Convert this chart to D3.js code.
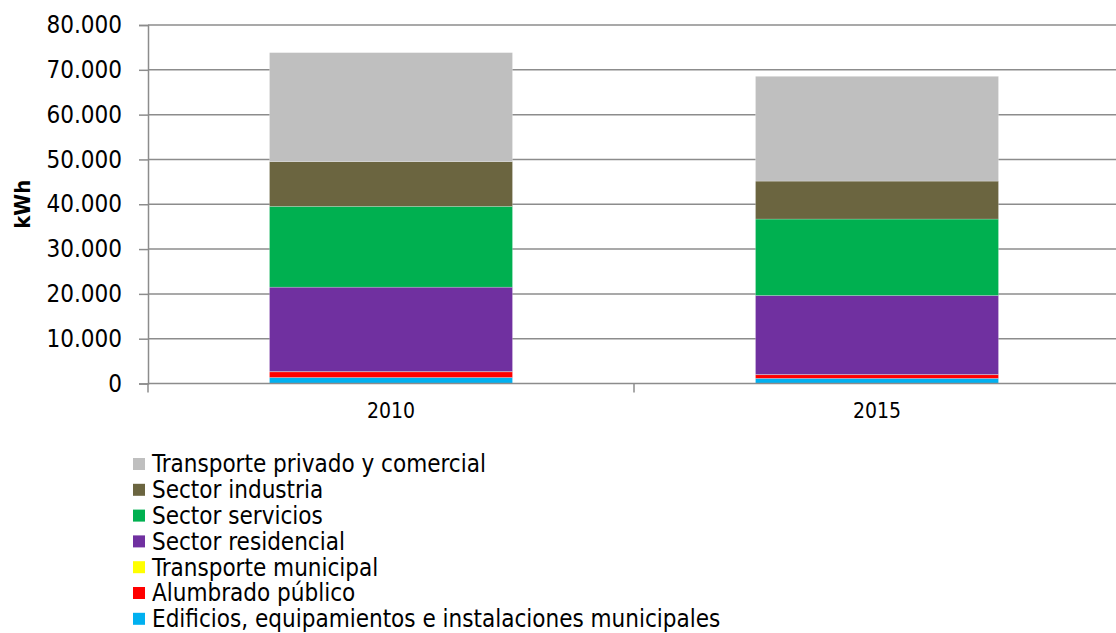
<!DOCTYPE html>
<html>
<head>
<meta charset="utf-8">
<script src="https://cdn.jsdelivr.net/npm/d3@7"></script>
<style>
  body { margin: 0; background: #fff; }
  svg { display: block; font-family: "DejaVu Sans Condensed", "DejaVu Sans", sans-serif; }
</style>
</head>
<body>
<div id="chart"></div>
<script>
// Consumo de energía por sector (kWh), años 2010 y 2015
const YEARS = ['2010', '2015'];
const SERIES = [
  'Edificios, equipamientos e instalaciones municipales',
  'Alumbrado público',
  'Transporte municipal',
  'Sector residencial',
  'Sector servicios',
  'Sector industria',
  'Transporte privado y comercial'
];
const EDIFICIOS = [1350, 1150];
const ALUMBRADO = [1250, 800];
const TRANSPORTE_MUN = [60, 50];
const RESIDENCIAL = [18840, 17640];
const SERVICIOS = [18030, 17060];
const INDUSTRIA = [9970, 8470];
const TRANSPORTE_PRIV = [24330, 23380];
const Y_TICKS = [0, 10000, 20000, 30000, 40000, 50000, 60000, 70000, 80000];

const COLORS = ['#00B0F0', '#FF0000', '#FFFF00', '#7030A0', '#00B050', '#6B6540', '#BFBFBF'];
const W = 1116, H = 633;
const PLOT = { left: 148, right: 1120, top: 25, bottom: 383.5 };

const values = [EDIFICIOS, ALUMBRADO, TRANSPORTE_MUN, RESIDENCIAL, SERVICIOS, INDUSTRIA, TRANSPORTE_PRIV];
const rows = YEARS.map((y, i) => {
  const r = { year: y };
  SERIES.forEach((s, k) => { r[s] = values[k][i]; });
  return r;
});
const stacked = d3.stack().keys(SERIES)(rows);

const svg = d3.select('#chart').append('svg').attr('width', W).attr('height', H);

const x = d3.scaleBand().domain(YEARS).range([PLOT.left, PLOT.right])
  .paddingInner(0.5).paddingOuter(0.25);
const y = d3.scaleLinear().domain([0, 80000]).range([PLOT.bottom, PLOT.top]);
const fmt = (d) => d3.format(',')(d).replace(/,/g, '.');

// gridlines
svg.append('g')
  .selectAll('line')
  .data(Y_TICKS.filter((d) => d > 0))
  .join('line')
  .attr('x1', PLOT.left).attr('x2', W)
  .attr('y1', (d) => y(d)).attr('y2', (d) => y(d))
  .attr('stroke', '#8c8c8c').attr('stroke-width', 1.5);

// bars
svg.append('g')
  .selectAll('g')
  .data(stacked)
  .join('g')
  .attr('fill', (d, i) => COLORS[i])
  .selectAll('rect')
  .data((d) => d)
  .join('rect')
  .attr('x', (d) => x(d.data.year))
  .attr('width', x.bandwidth())
  .attr('y', (d) => y(d[1]))
  .attr('height', (d) => y(d[0]) - y(d[1]))
  .attr('stroke', 'rgba(255,255,255,0.35)')
  .attr('stroke-width', 0.6);

// y axis
const yAxis = svg.append('g')
  .attr('transform', `translate(${PLOT.left},0)`)
  .call(d3.axisLeft(y).tickValues(Y_TICKS).tickFormat(fmt).tickSize(9).tickPadding(17));
yAxis.select('.domain').attr('stroke', '#8c8c8c').attr('stroke-width', 1.5);
yAxis.selectAll('.tick line').attr('stroke', '#8c8c8c').attr('stroke-width', 1.5);
yAxis.selectAll('.tick text')
  .attr('font-size', '24px').attr('fill', '#000')
  .attr('font-family', '"DejaVu Sans Condensed", sans-serif');

// x axis
const xg = svg.append('g');
xg.append('line')
  .attr('x1', PLOT.left).attr('x2', W)
  .attr('y1', PLOT.bottom).attr('y2', PLOT.bottom)
  .attr('stroke', '#8c8c8c').attr('stroke-width', 1.5);
const bounds = [PLOT.left, ...YEARS.map((d) => x(d) + x.bandwidth() + x.step() * 0.25)];
xg.selectAll('.sep')
  .data(bounds)
  .join('line')
  .attr('x1', (d) => d).attr('x2', (d) => d)
  .attr('y1', PLOT.bottom).attr('y2', PLOT.bottom + 9)
  .attr('stroke', '#8c8c8c').attr('stroke-width', 1.5);
xg.selectAll('.lbl')
  .data(YEARS)
  .join('text')
  .attr('x', (d) => x(d) + x.bandwidth() / 2)
  .attr('y', 411)
  .attr('dy', '0.35em')
  .attr('text-anchor', 'middle')
  .attr('font-size', '21px')
  .text((d) => d);

// y title
svg.append('text')
  .attr('transform', `translate(22,${(PLOT.top + PLOT.bottom) / 2}) rotate(-90)`)
  .attr('dy', '0.35em')
  .attr('text-anchor', 'middle')
  .attr('font-size', '22px')
  .attr('font-weight', 'bold')
  .text('kWh');

// legend (reverse order, top is last series)
const legendItems = SERIES.map((s, i) => ({ s, c: COLORS[i] })).reverse();
const lg = svg.append('g').selectAll('g')
  .data(legendItems)
  .join('g')
  .attr('transform', (d, i) => `translate(133,${464 + i * 25.8})`);
lg.append('rect')
  .attr('x', 0).attr('y', -6).attr('width', 12).attr('height', 12)
  .attr('fill', (d) => d.c);
lg.append('text')
  .attr('x', 19).attr('dy', '0.35em')
  .attr('font-size', '24px')
  .text((d) => d.s);
</script>
</body>
</html>
